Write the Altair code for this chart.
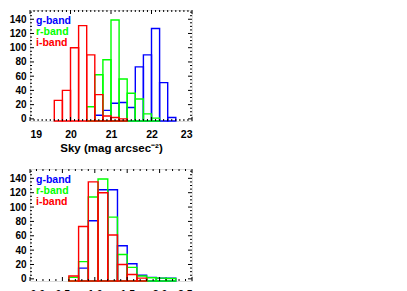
import altair as alt
import pandas as pd
import numpy as np

bands = ["g-band", "r-band", "i-band"]
colors = ["#0000ff", "#00ff00", "#ff0000"]

# Top panel: sky brightness histograms (bin width 0.2 mag)
sky_bin = 0.2
sky_g_start = [20.6, 20.8, 21.0, 21.2, 21.4, 21.6, 21.8, 22.0, 22.2, 22.4]
sky_g_count = [5, 12, 22, 23, 16, 73, 90, 127, 51, 2]
sky_r_start = [20.4, 20.6, 20.8, 21.0, 21.2, 21.4, 21.6, 21.8, 22.0]
sky_r_count = [17, 62, 83, 139, 56, 36, 28, 7, 1]
sky_i_start = [19.6, 19.8, 20.0, 20.2, 20.4, 20.6, 20.8, 21.0, 21.2]
sky_i_count = [26, 40, 100, 131, 90, 34, 4, 2, 0]

# Bottom panel: seeing histograms (bin width 0.15 arcsec)
see_bin = 0.15
see_g_start = [0.75, 0.9, 1.05, 1.2, 1.35, 1.5, 1.65, 1.8, 1.95, 2.1]
see_g_count = [15, 81, 124, 124, 46, 21, 5, 2, 1, 1]
see_r_start = [0.6, 0.75, 0.9, 1.05, 1.2, 1.35, 1.5, 1.65, 1.8, 1.95, 2.1]
see_r_count = [2, 24, 114, 139, 86, 34, 16, 4, 1.5, 1, 0.5]
see_i_start = [0.6, 0.75, 0.9, 1.05, 1.2, 1.35, 1.5, 1.65]
see_i_count = [4, 73, 135, 120, 61, 20, 6, 1]

# Axis ticks
sky_major = [19, 20, 21, 22, 23]
see_major = [0.0, 0.5, 1.0, 1.5, 2.0, 2.5]
y_major = [0, 20, 40, 60, 80, 100, 120, 140]

YDOM = [-3, 153]
W = 162
H_TOP = 111
H_BOT = 112
FONT = "Liberation Sans"


def hist_df(starts, counts, binw):
    rows = []
    for band, s, c in zip(bands, starts, counts):
        for a, n in zip(s, c):
            rows.append({"band": band, "x0": a, "x1": round(a + binw, 4), "n": n})
    return pd.DataFrame(rows)


def minor(lo, hi, step, majors):
    vals = np.round(np.arange(lo, hi + step / 2, step), 4)
    return [float(v) for v in vals if not any(abs(v - m) < 1e-6 for m in majors)]


def panel(df, xdom, xmajor, xminor_step, H, xfmt, xtitle):
    xs = alt.Scale(domain=xdom, nice=False, zero=False)
    ys = alt.Scale(domain=YDOM, nice=False, zero=False)
    xkw = dict(values=xmajor, format=xfmt, ticks=False, domain=False, grid=False,
               labelPadding=8, labelFont=FONT, labelFontSize=10.5, labelFontWeight="bold",
               labelColor="black", labelOverlap=False)
    if xtitle is None:
        xaxis = alt.Axis(title=None, **xkw)
    else:
        xaxis = alt.Axis(title=xtitle, titleFont=FONT, titleFontSize=11.5,
                         titleFontWeight="bold", titlePadding=3, titleColor="black", **xkw)
    yaxis = alt.Axis(values=y_major, ticks=False, domain=False, grid=False, labelPadding=4,
                     labelFont=FONT, labelFontSize=10, labelFontWeight="bold", labelColor="black",
                     labelOverlap=False, title=None)

    bars = alt.Chart(df).mark_rect(fillOpacity=0, strokeWidth=1.4).encode(
        x=alt.X("x0:Q", scale=xs, axis=xaxis),
        x2="x1:Q",
        y=alt.Y("n:Q", scale=ys, axis=yaxis),
        y2=alt.datum(YDOM[0]),
        stroke=alt.Stroke("band:N", scale=alt.Scale(domain=bands, range=colors), legend=None),
    )

    layers = [bars]
    xminor = minor(xdom[0], xdom[1], xminor_step, xmajor)
    yminor = minor(0, 150, 5, y_major)
    for vals, ln in [(xmajor, 4), (xminor, 2)]:
        d = pd.DataFrame({"v": vals})
        layers.append(alt.Chart(d).mark_rule(color="black", strokeWidth=1).encode(
            x=alt.X("v:Q", scale=xs, axis=xaxis), y=alt.value(H), y2=alt.value(H - ln)))
        layers.append(alt.Chart(d).mark_rule(color="black", strokeWidth=1).encode(
            x=alt.X("v:Q", scale=xs, axis=xaxis), y=alt.value(0), y2=alt.value(ln)))
    for vals, ln in [(y_major, 4), (yminor, 2)]:
        d = pd.DataFrame({"v": vals})
        layers.append(alt.Chart(d).mark_rule(color="black", strokeWidth=1).encode(
            y=alt.Y("v:Q", scale=ys, axis=yaxis), x=alt.value(0), x2=alt.value(ln)))
        layers.append(alt.Chart(d).mark_rule(color="black", strokeWidth=1).encode(
            y=alt.Y("v:Q", scale=ys, axis=yaxis), x=alt.value(W), x2=alt.value(W - ln)))
    for i, (b, c) in enumerate(zip(bands, colors)):
        layers.append(alt.Chart(pd.DataFrame({"t": [b]})).mark_text(
            align="left", baseline="middle", font=FONT, fontSize=10.5, fontWeight="bold", color=c
        ).encode(text="t:N", x=alt.value(6), y=alt.value(10.5 + 11 * i)))
    return alt.layer(*layers).properties(width=W, height=H)


top = panel(hist_df([sky_g_start, sky_r_start, sky_i_start],
                    [sky_g_count, sky_r_count, sky_i_count], sky_bin),
            [19, 23], sky_major, 0.1, H_TOP, ".0f", "Sky (mag arcsec\u207b\u00b2)")
bot = panel(hist_df([see_g_start, see_r_start, see_i_start],
                    [see_g_count, see_r_count, see_i_count], see_bin),
            [0, 2.5], see_major, 0.1, H_BOT, ".1f", None)

chart = alt.vconcat(top, bot, spacing=13).properties(
    padding={"left": 0, "top": 1, "right": 0, "bottom": 0}
).configure_view(stroke="black", strokeWidth=1).configure(background="white")

chart.save("out.html", embed_options={"renderer": "svg", "actions": False})
